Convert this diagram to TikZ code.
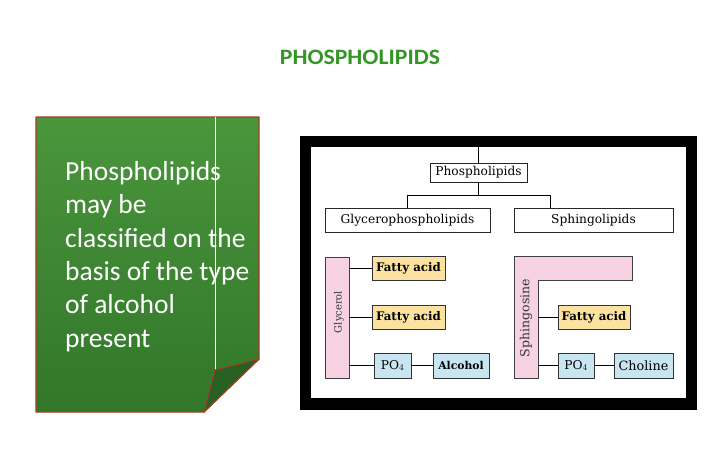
\documentclass[tikz,border=0pt]{standalone}
\usepackage{fontspec}
\setmainfont{DejaVu Serif}
\newfontfamily\calib{Carlito}
\newfontfamily\calibtitle[FakeStretch=1.08]{Carlito}
\newfontfamily\dserif{DejaVu Serif}
\begin{document}
\begin{tikzpicture}[x=1pt,y=-1pt,
  tbox/.style={draw=black!85,line width=0.8pt,inner sep=0pt,font=\dserif\fontsize{12.2}{14}\selectfont},
  fabox/.style={draw=black!80,line width=0.9pt,fill=fayellow,inner sep=0pt,minimum width=73pt,minimum height=24pt,font=\dserif\bfseries\fontsize{11.8}{13}\selectfont},
  pobox/.style={draw=black!80,line width=0.9pt,fill=poblue,inner sep=0pt,minimum height=25pt,font=\dserif\fontsize{12.2}{13}\selectfont},
  conn/.style={line width=0.8pt,black},
  barfill/.style={draw=black!75,line width=0.7pt,fill=barpink},
  rlabel/.style={rotate=90,inner sep=0pt,text=black!80,font=\dserif\fontsize{10}{12}\selectfont}
]
\definecolor{fayellow}{RGB}{251,226,160}
\definecolor{poblue}{RGB}{200,230,242}
\definecolor{barpink}{RGB}{246,210,226}
\definecolor{notetop}{RGB}{74,150,60}
\definecolor{notebot}{RGB}{50,118,42}
\definecolor{noteedge}{RGB}{160,62,34}
\definecolor{flapgreen}{RGB}{40,96,36}
\definecolor{titlegreen}{RGB}{52,150,36}
\useasboundingbox (0,0) rectangle (720,450);
\fill[white] (0,0) rectangle (720,450);
% title
\node (title) at (360,57) {\calibtitle\bfseries\fontsize{22}{24}\selectfont\color{titlegreen}PHOSPHOLIPIDS};
% note
\shade[top color=notetop,bottom color=notebot] (36,117) -- (259,117) -- (259,359) -- (204,412) -- (36,412) -- cycle;
\draw[noteedge,line width=1.2pt,line join=round] (36,117) -- (259,117) -- (259,359) -- (204,412) -- (36,412) -- cycle;
\draw[white,line width=0.8pt] (215,117) -- (215,378);
\filldraw[fill=flapgreen,draw=noteedge,line width=1.2pt,line join=round] (259,359) -- (215,370) -- (204,412) -- cycle;
\node[anchor=north west,inner sep=0pt,align=left,text=white,
  font=\calib\fontsize{27.5}{33.4}\selectfont] (notetext) at (65,161)
  {Phospholipids\\ may be\\ classified on the\\ basis of the type\\ of alcohol\\ present};
% frame
\fill[black] (300,136) rectangle (697,410);
\fill[white] (311,147) rectangle (686,398);
\coordinate (intop) at (478.5,147);
% tree
\node[tbox,minimum width=97pt,minimum height=19pt] (ph) at (478.5,172.5) {Phospholipids};
\node[tbox,minimum width=165pt,minimum height=24pt] (gp) at (407.5,220) {Glycerophospholipids};
\node[tbox,minimum width=159pt,minimum height=24pt] (sp) at (593.5,220) {Sphingolipids};
\coordinate (jr) at (550,195);
\draw[conn] (ph.north) -- (intop);
\draw[conn] (ph.south) -- (ph.south |- jr);
\draw[conn] (gp.north) |- (jr) -- (jr |- sp.north);
% glycerol side
\node[barfill,minimum width=24pt,minimum height=121pt,inner sep=0pt] (gly) at (337,317.5) {};
\node[rlabel] (glylab) at (339,312) {Glycerol};
\node[fabox] (fa1) at (408.5,268) {Fatty acid};
\node[fabox] (fa2) at (408.5,317) {Fatty acid};
\node[pobox,minimum width=37pt] (po1) at (392.5,365.5) {PO$_4$};
\node[pobox,minimum width=56pt,font=\dserif\bfseries\fontsize{10.8}{12}\selectfont] (alc) at (461,365.5) {Alcohol};
\draw[conn] (gly.east |- fa1) -- (fa1.west);
\draw[conn] (gly.east |- fa2) -- (fa2.west);
\draw[conn] (gly.east |- po1) -- (po1.west);
\draw[line width=1.8pt] (po1.east) -- (alc.west);
% sphingosine side
\filldraw[barfill] (514,256) -- (632,256) -- (632,280) -- (538,280) -- (538,378) -- (514,378) -- cycle;
\node[minimum width=24pt,minimum height=122pt,inner sep=0pt] (sph) at (526,317) {};
\node[rlabel,font=\dserif\fontsize{12.5}{14}\selectfont] (sphlab) at (526,318) {Sphingosine};
\node[fabox,minimum width=72pt] (fa3) at (594,317) {Fatty acid};
\node[pobox,minimum width=36pt] (po2) at (576,365.5) {PO$_4$};
\node[pobox,minimum width=59pt,font=\dserif\fontsize{12.8}{14}\selectfont] (cho) at (643.5,365.5) {Choline};
\draw[conn] (sph.east |- fa3) -- (fa3.west);
\draw[conn] (sph.east |- po2) -- (po2.west);
\draw[conn] (po2.east) -- (cho.west);
\end{tikzpicture}
\end{document}
